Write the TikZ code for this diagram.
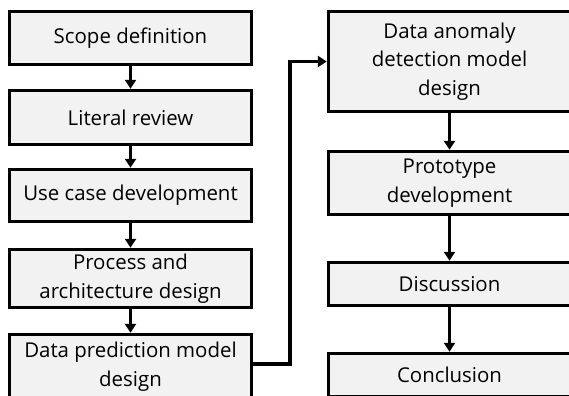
\documentclass[tikz,border=0pt]{standalone}
\usepackage{fontspec}
\setmainfont[Ligatures=NoCommon]{Open Sans}
\usepackage{tikz}
\usetikzlibrary{arrows.meta}
\definecolor{boxgray}{HTML}{F2F2F2}
\tikzstyle{stage}=[draw=black,fill=boxgray,line width=3.5bp,minimum width=242bp,inner sep=0pt,
  align=center,font=\fontsize{20.5}{28.5}\selectfont]

\begin{document}
\begin{tikzpicture}[x=1bp,y=-1bp,line width=3.2bp,>={Triangle[length=9bp,width=11bp]}]
  \useasboundingbox (0,0) rectangle (569,395);
  % left column
  \foreach \name/\y/\h/\text in {L-1/38/53/Scope definition, L-2/117.5/54/Literal review,
                                 L-3/195.5/52/Use case development,
                                 L-4/278.5/58/{Process and\\architecture design},
                                 L-5/366.5/64/{Data prediction model\\design}}
    \node[stage,minimum height=\h bp] (\name) at (130.5,\y) {\text};
  % right column
  \foreach \name/\y/\h/\text in {R-1/61.5/100/{Data anomaly\\detection model\\design},
                                 R-2/183/63/{Prototype\\development},
                                 R-3/284/43/Discussion, R-4/375/43/Conclusion}
    \node[stage,minimum height=\h bp] (\name) at (449.5,\y) {\text};
  \foreach \from/\to in {L-1/L-2,L-2/L-3,L-3/L-4,L-4/L-5,R-1/R-2,R-2/R-3,R-3/R-4}
    \draw[->] (\from) -- (\to);
  \coordinate (turn) at (290,0);
  \draw[->] ([yshift=2.5bp]L-5.east) -| (turn |- R-1.west) -- (R-1.west);
\end{tikzpicture}
\end{document}
